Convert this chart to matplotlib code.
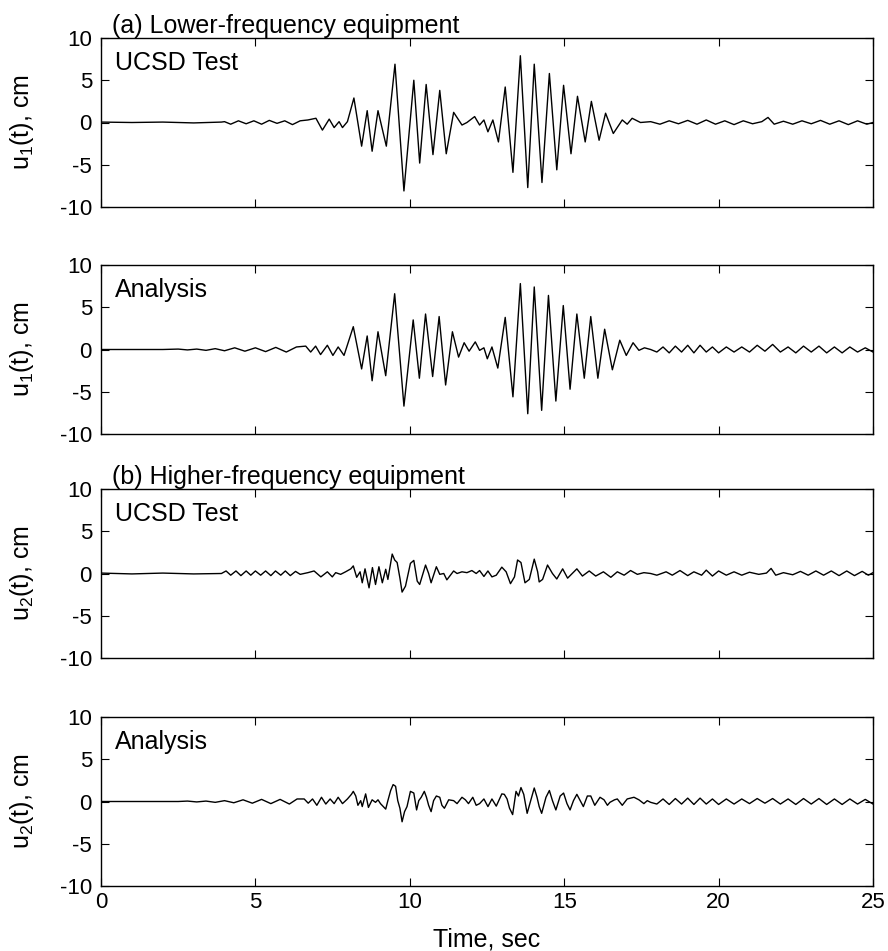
import matplotlib
matplotlib.use("Agg")
import matplotlib.pyplot as plt

plt.rcParams['font.family'] = ['Liberation Sans', 'DejaVu Sans']
plt.rcParams['mathtext.fontset'] = 'custom'
plt.rcParams['mathtext.rm'] = 'Liberation Sans'
plt.rcParams['mathtext.it'] = 'Liberation Sans:italic'
plt.rcParams['axes.unicode_minus'] = False

# ---------------- data (extrema of each record) ----------------
# (a) lower-frequency equipment, UCSD test
t_a_test = [0, 1.0, 2.0, 3.0, 3.9, 4.0, 4.2, 4.45, 4.7, 4.95, 5.2, 5.45, 5.7, 5.95, 6.2, 6.45,
            6.7, 6.96, 7.17, 7.39, 7.55, 7.71, 7.82, 7.98,
            8.19, 8.44, 8.62, 8.78, 8.97, 9.24, 9.52, 9.81, 10.13, 10.32, 10.53, 10.75, 10.97, 11.18,
            11.42, 11.69, 11.85, 12.1, 12.26, 12.40, 12.53, 12.69, 12.87, 13.09, 13.34, 13.58, 13.82,
            14.03, 14.28, 14.52, 14.76, 14.98, 15.22, 15.43, 15.68, 15.88, 16.13, 16.34, 16.59, 16.88,
            17.04, 17.20, 17.47, 17.8,
            18.1, 18.4, 18.7, 19.0, 19.3, 19.6, 19.9, 20.2, 20.5, 20.8, 21.1, 21.4, 21.6, 21.8, 22.1,
            22.4, 22.7, 23.0, 23.3, 23.6, 23.9, 24.2, 24.5, 24.8, 25.0]
u_a_test = [0.05, 0.0, 0.05, -0.05, 0.05, 0.1, -0.2, 0.2, -0.15, 0.2, -0.2, 0.25, -0.1, 0.2, -0.25, 0.2,
            0.3, 0.5, -0.9, 0.4, -0.6, 0.1, -0.6, 0.1,
            2.9, -2.8, 1.4, -3.4, 1.4, -2.8, 6.9, -8.1, 5.0, -4.8, 4.5, -3.8, 3.8, -3.7,
            1.2, -0.3, 0.0, 0.7, -0.3, 0.3, -1.1, 0.3, -2.3, 4.2, -5.9, 7.9, -7.7,
            6.9, -7.1, 5.8, -5.6, 4.4, -3.7, 3.1, -2.3, 2.5, -2.1, 1.1, -1.3, 0.3,
            -0.2, 0.5, 0.0, 0.1,
            -0.2, 0.2, -0.15, 0.25, -0.2, 0.3, -0.2, 0.2, -0.25, 0.2, -0.15, 0.1, 0.6, -0.2, 0.15,
            -0.2, 0.2, -0.15, 0.25, -0.2, 0.2, -0.25, 0.2, -0.2, 0.0]

# (a) lower-frequency equipment, analysis
t_a_ana = [0, 2.0, 2.5, 2.8, 3.1, 3.4, 3.7, 4.0, 4.33, 4.66, 5.0, 5.33, 5.66, 6.0, 6.33,
           6.63, 6.79, 6.95, 7.11, 7.33, 7.51, 7.68, 7.87,
           8.17, 8.44, 8.62, 8.78, 8.97, 9.22, 9.51, 9.81, 10.11, 10.31, 10.51, 10.74, 10.95, 11.16,
           11.38, 11.58, 11.76, 11.92, 12.12, 12.26, 12.40, 12.51, 12.66, 12.85, 13.09, 13.34, 13.58,
           13.82, 14.03, 14.27, 14.49, 14.73, 14.97, 15.19, 15.41, 15.65, 15.86, 16.09, 16.31, 16.56,
           16.80, 17.01, 17.23, 17.42, 17.60, 17.8,
           18.0, 18.2, 18.4, 18.6, 18.8, 19.0, 19.2, 19.4, 19.6, 19.8, 20.0, 20.25, 20.5, 20.75, 21.0,
           21.25, 21.5, 21.75, 22.0, 22.25, 22.5, 22.75, 23.0, 23.25, 23.5, 23.75, 24.0, 24.25, 24.5,
           24.75, 25.0]
u_a_ana = [0.0, 0.0, 0.05, -0.05, 0.05, -0.1, 0.1, -0.15, 0.2, -0.2, 0.2, -0.25, 0.25, -0.3, 0.3,
           0.4, -0.3, 0.4, -0.6, 0.5, -0.7, 0.3, -0.7,
           2.7, -2.3, 1.6, -3.7, 2.1, -3.1, 6.6, -6.7, 3.5, -3.4, 4.2, -3.2, 3.9, -4.2,
           2.1, -0.9, 0.8, -0.2, 0.9, -0.1, 0.2, -1.1, 0.3, -2.2, 3.8, -5.6, 7.8,
           -7.6, 7.4, -7.2, 6.4, -6.1, 5.2, -4.7, 4.2, -3.4, 3.9, -3.4, 2.4, -2.4,
           1.1, -0.7, 0.8, -0.1, 0.2, 0.0,
           -0.3, 0.3, -0.4, 0.4, -0.3, 0.5, -0.4, 0.5, -0.3, 0.3, -0.4, 0.3, -0.3, 0.3, -0.3,
           0.5, -0.2, 0.6, -0.3, 0.3, -0.4, 0.4, -0.3, 0.4, -0.4, 0.3, -0.4, 0.3, -0.3,
           0.2, -0.3]

# (b) higher-frequency equipment, UCSD test
t_b_test = [0, 1.0, 2.0, 3.0, 3.9, 4.05, 4.2, 4.37, 4.53, 4.7, 4.85, 5.0, 5.17, 5.33, 5.5, 5.65, 5.82,
            5.97, 6.13, 6.3, 6.45,
            6.70, 6.90, 7.12, 7.33, 7.49, 7.60, 7.76, 7.92, 8.09, 8.17, 8.28, 8.39, 8.46, 8.55, 8.68,
            8.79, 8.89, 9.0, 9.11, 9.22, 9.29, 9.43, 9.51, 9.59, 9.68, 9.75, 9.86, 10.02, 10.13, 10.24,
            10.32, 10.51, 10.61, 10.69, 10.86, 10.97, 11.10, 11.20, 11.42, 11.53, 11.69, 11.85, 12.01,
            12.15, 12.26, 12.40, 12.53, 12.66, 12.80, 12.98, 13.12, 13.26, 13.39, 13.49, 13.60, 13.73,
            13.87, 14.03, 14.14, 14.19, 14.30, 14.46, 14.62, 14.76, 14.95, 15.11, 15.41, 15.59, 15.81,
            16.02, 16.27, 16.51, 16.72, 16.94, 17.15, 17.37, 17.58, 17.8,
            18.0, 18.3, 18.5, 18.75, 19.0, 19.2, 19.45, 19.6, 19.8, 20.0, 20.25, 20.5, 20.75, 21.0,
            21.3, 21.55, 21.7, 21.85, 22.1, 22.4, 22.65, 22.9, 23.15, 23.4, 23.65, 23.9, 24.15, 24.4,
            24.65, 24.85, 25.0]
u_b_test = [0.05, -0.05, 0.05, -0.05, 0.0, 0.3, -0.2, 0.3, -0.25, 0.3, -0.2, 0.3, -0.2, 0.3, -0.25,
            0.3, -0.2, 0.3, -0.25, 0.25, -0.1,
            0.1, 0.3, -0.4, 0.2, -0.4, 0.1, -0.1, 0.2, 0.55, 0.9, -0.45, 0.2, -1.1, 0.55, -1.7,
            0.7, -1.3, 0.8, -1.1, 0.5, -0.7, 2.3, 1.6, 1.3, -0.55, -2.2, -1.5, 1.2, 1.55, -0.9,
            -1.3, 1.0, 0.0, -1.1, 0.8, -0.1, 0.0, -0.75, 0.3, 0.0, 0.2, 0.1, 0.35,
            0.0, 0.35, -0.35, 0.3, -0.4, -0.2, 0.75, 0.2, -1.2, -0.4, 1.6, 1.3, -1.1,
            -0.7, 1.7, 0.2, -1.0, -0.7, 1.0, 0.0, -0.65, 0.55, -0.55, 0.55, -0.3, 0.3,
            -0.3, 0.2, -0.45, 0.2, -0.2, 0.35, -0.1, 0.1, 0.0,
            -0.2, 0.2, -0.2, 0.35, -0.25, 0.2, -0.2, 0.4, -0.3, 0.3, -0.2, 0.2, -0.2, 0.15,
            -0.1, 0.05, 0.6, -0.2, 0.1, -0.15, 0.25, -0.2, 0.3, -0.2, 0.3, -0.25, 0.3, -0.25,
            0.25, -0.2, 0.1]

# (b) higher-frequency equipment, analysis
t_b_ana = [0, 2.5, 2.8, 3.1, 3.4, 3.7, 4.0, 4.3, 4.6, 4.9, 5.2, 5.5, 5.8, 6.1, 6.35,
           6.58, 6.71, 6.85, 6.99, 7.14, 7.28, 7.42, 7.55, 7.68, 7.82, 7.98, 8.11, 8.17, 8.25, 8.32,
           8.41, 8.46, 8.57, 8.66, 8.78, 8.89, 8.97, 9.05, 9.22, 9.29, 9.38, 9.46, 9.54, 9.61, 9.68,
           9.75, 9.83, 9.91, 10.02, 10.13, 10.22, 10.29, 10.37, 10.47, 10.54, 10.61, 10.69, 10.77,
           10.86, 10.97, 11.04, 11.12, 11.26, 11.42, 11.53, 11.69, 11.80, 11.90, 12.04, 12.15,
           12.26, 12.40, 12.53, 12.66, 12.80, 12.98, 13.06, 13.15, 13.23, 13.33, 13.44, 13.52, 13.60,
           13.69, 13.80, 13.90, 14.03, 14.12, 14.19, 14.27, 14.41, 14.52, 14.62, 14.73, 14.87, 14.98,
           15.09, 15.19, 15.30, 15.41, 15.52, 15.62, 15.75, 15.86, 15.99, 16.16, 16.29, 16.40, 16.48,
           16.63, 16.72, 16.88, 17.04, 17.26, 17.42, 17.58, 17.69, 17.8,
           18.0, 18.2, 18.4, 18.6, 18.8, 19.0, 19.2, 19.4, 19.6, 19.8, 20.0, 20.25, 20.5, 20.75, 21.0,
           21.25, 21.5, 21.75, 22.0, 22.25, 22.5, 22.75, 23.0, 23.25, 23.5, 23.75, 24.0, 24.25, 24.5,
           24.75, 25.0]
u_b_ana = [0.0, 0.0, 0.05, -0.05, 0.05, -0.1, 0.1, -0.15, 0.2, -0.2, 0.25, -0.25, 0.25, -0.3, 0.3,
           0.3, -0.2, 0.3, -0.45, 0.5, -0.3, 0.3, -0.25, 0.5, -0.25, 0.3, 0.85, 1.2, 0.65, -0.45,
           0.1, -0.6, 0.9, -0.7, 0.2, -0.1, 0.2, -0.25, -0.9, 0.1, 1.3, 2.0, 1.8, 0.1, -0.8,
           -2.4, -1.2, -0.6, 1.2, 1.0, -1.0, 0.1, 0.5, 1.2, 0.5, -0.45, -1.2, 0.1,
           0.65, 0.5, -0.45, -0.8, 0.2, 0.1, -0.25, 0.5, 0.2, -0.25, 0.5, -0.45,
           -0.25, 0.3, -0.6, 0.3, -0.55, 0.9, 0.85, 0.3, -0.8, -1.55, 1.2, 0.65, 1.65,
           0.85, -1.4, -0.1, 1.6, 0.5, -0.6, -1.4, 0.5, 1.3, 0.1, -1.0, 0.65, 1.0,
           -0.25, -1.0, 0.1, 0.85, 0.1, -0.6, 0.65, 0.65, -0.45, 0.5, 0.2, -0.45, -0.1,
           0.2, 0.3, -0.45, 0.3, 0.5, 0.2, -0.25, 0.1, -0.1,
           -0.3, 0.3, -0.35, 0.35, -0.3, 0.4, -0.35, 0.4, -0.3, 0.3, -0.35, 0.3, -0.3, 0.3, -0.25,
           0.35, -0.2, 0.35, -0.3, 0.3, -0.35, 0.35, -0.3, 0.35, -0.35, 0.3, -0.35, 0.3, -0.3,
           0.25, -0.3]

panels = [(t_a_test, u_a_test, "UCSD Test", r"u$_\mathrm{1}$(t), cm"),
          (t_a_ana, u_a_ana, "Analysis", r"u$_\mathrm{1}$(t), cm"),
          (t_b_test, u_b_test, "UCSD Test", r"u$_\mathrm{2}$(t), cm"),
          (t_b_ana, u_b_ana, "Analysis", r"u$_\mathrm{2}$(t), cm")]

xticks = [0, 5, 10, 15, 20, 25]
yticks = [-10, -5, 0, 5, 10]

W, Hf = 888, 951
fig = plt.figure(figsize=(W / 100, Hf / 100), dpi=100)
tops = [38, 265, 489, 717]      # top edge of each panel, pixels
H = 169
L, R = 101, 873
for i, (t, u, lab, ylab) in enumerate(panels):
    top = tops[i]
    ax = fig.add_axes([L / W, 1 - (top + H) / Hf, (R - L) / W, H / Hf])
    ax.plot(t, u, color='black', lw=1.0, solid_joinstyle='round')
    ax.set_xlim(0, 25)
    ax.set_ylim(-10, 10)
    ax.set_xticks(xticks)
    ax.set_yticks(yticks)
    ax.tick_params(direction='in', top=True, right=True, length=6, width=0.8,
                   labelsize=16)
    ax.tick_params(axis='y', pad=6.5)
    ax.tick_params(axis='x', pad=4.5)
    for s in ax.spines.values():
        s.set_linewidth(1.0)
    if i < 3:
        ax.set_xticklabels([])
    ax.set_ylabel(ylab, fontsize=18)
    ax.yaxis.set_label_coords(-0.084, 0.5)
    ax.text(0.018, 0.855, lab, transform=ax.transAxes, fontsize=18, va='center', ha='left')
    if i == 0:
        ax.text(0.014, 1.03, "(a) Lower-frequency equipment", transform=ax.transAxes,
                fontsize=18, va='baseline', ha='left')
    if i == 2:
        ax.text(0.014, 1.03, "(b) Higher-frequency equipment", transform=ax.transAxes,
                fontsize=18, va='baseline', ha='left')

fig.text((L + R) / 2 / W, 1 - 940 / Hf, "Time, sec", fontsize=18, ha='center', va='center')

fig.savefig("out.png", dpi=100)
